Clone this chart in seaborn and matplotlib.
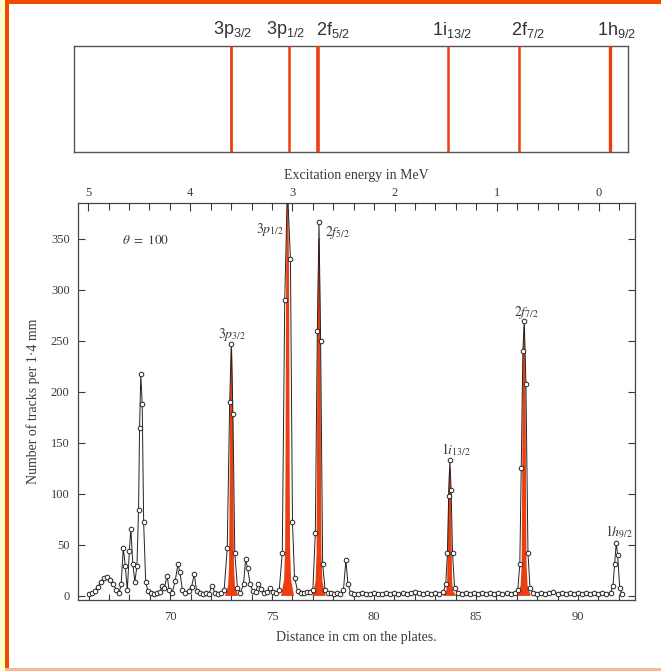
import numpy as np
import pandas as pd
import matplotlib
matplotlib.use("Agg")
import matplotlib.pyplot as plt
from matplotlib.patches import Rectangle
from matplotlib.ticker import MultipleLocator
import seaborn as sns

sns.set_theme(style="ticks")
plt.rcParams["font.family"] = ["Liberation Serif", "DejaVu Serif"]
plt.rcParams["mathtext.fontset"] = "stix"

# ---- measured spectrum: distance on the plates (cm) vs tracks per 1.4 mm ----
distance = [
    66.0, 66.15, 66.3, 66.45, 66.6, 66.75, 66.9, 67.05, 67.2, 67.35, 67.5, 67.6,
    67.7, 67.8, 67.9, 68.0, 68.07, 68.17, 68.27, 68.37, 68.45, 68.5, 68.56, 68.63,
    68.7, 68.8, 68.9, 69.05, 69.2, 69.35, 69.5, 69.6, 69.72, 69.85, 69.95, 70.1,
    70.25, 70.38, 70.48, 70.6, 70.75, 70.9, 71.05, 71.18, 71.3, 71.45, 71.6, 71.75,
    71.9, 72.05, 72.2, 72.35, 72.5, 72.65, 72.8, 72.92, 73.0, 73.08, 73.17, 73.3,
    73.45, 73.6, 73.7, 73.8, 73.92, 74.05, 74.2, 74.32, 74.45, 74.6, 74.75, 74.9,
    75.05, 75.2, 75.35, 75.5, 75.62, 75.75, 75.9, 76.0, 76.1, 76.25, 76.4, 76.55,
    76.7, 76.85, 77.0, 77.12, 77.22, 77.3, 77.38, 77.48, 77.6, 77.75, 77.9, 78.05,
    78.2, 78.35, 78.5, 78.62, 78.72, 78.85, 79.0, 79.2, 79.4, 79.6, 79.8, 80.0,
    80.2, 80.4, 80.6, 80.8, 81.0, 81.2, 81.4, 81.6, 81.8, 82.0, 82.2, 82.4,
    82.6, 82.8, 83.0, 83.2, 83.4, 83.52, 83.6, 83.66, 83.72, 83.78, 83.85, 83.95,
    84.1, 84.3, 84.5, 84.7, 84.9, 85.1, 85.3, 85.5, 85.7, 85.9, 86.1, 86.3,
    86.5, 86.7, 86.9, 87.05, 87.15, 87.22, 87.3, 87.37, 87.45, 87.55, 87.65, 87.8,
    88.0, 88.2, 88.4, 88.6, 88.8, 89.0, 89.2, 89.4, 89.6, 89.8, 90.0, 90.2,
    90.4, 90.6, 90.8, 91.0, 91.2, 91.4, 91.6, 91.72, 91.8, 91.88, 91.95, 92.05,
    92.15,
]
tracks = [
    2, 3, 5, 9, 14, 18, 19, 16, 12, 6, 3, 12,
    47, 29, 6, 44, 66, 31, 14, 29, 84, 165, 217, 188,
    72, 14, 5, 3, 2, 3, 4, 10, 8, 20, 6, 3,
    15, 31, 23, 6, 3, 5, 9, 21, 5, 3, 2, 3,
    2, 10, 3, 2, 3, 6, 47, 190, 247, 178, 42, 8,
    3, 12, 36, 27, 12, 5, 4, 12, 7, 3, 4, 8,
    4, 3, 6, 42, 290, 400, 330, 72, 18, 5, 3, 3,
    4, 4, 6, 62, 260, 366, 250, 31, 6, 3, 3, 2,
    3, 2, 6, 35, 12, 3, 2, 2, 3, 2, 2, 3,
    2, 2, 3, 2, 3, 2, 3, 2, 3, 4, 3, 2,
    3, 2, 3, 2, 4, 12, 42, 98, 133, 104, 42, 8,
    3, 2, 3, 2, 3, 2, 3, 2, 3, 2, 3, 2,
    3, 2, 3, 6, 31, 125, 240, 269, 208, 42, 8, 3,
    2, 3, 2, 3, 4, 2, 3, 2, 3, 2, 3, 2,
    3, 2, 3, 2, 3, 2, 3, 10, 31, 52, 40, 8,
    2,
]

# ---- single-particle states ----
peak_labels = [r"$3p_{3/2}$", r"$3p_{1/2}$", r"$2f_{5/2}$",
               r"$1i_{13/2}$", r"$2f_{7/2}$", r"$1h_{9/2}$"]
peak_label_x = [73.05, 74.9, 78.2, 84.0, 87.5, 92.0]
peak_label_y = [256, 359, 356, 143, 278, 62]

# shaded peaks (filled contribution)
fill_center = [73.01, 75.76, 77.3, 83.71, 87.36]
fill_height = [242, 400, 350, 125, 264]

# level diagram across the top
level_labels = [r"$\mathregular{3p_{3/2}}$", r"$\mathregular{3p_{1/2}}$",
                r"$\mathregular{2f_{5/2}}$", r"$\mathregular{1i_{13/2}}$",
                r"$\mathregular{2f_{7/2}}$", r"$\mathregular{1h_{9/2}}$"]
level_pos = [72.95, 75.8, 77.25, 83.65, 87.1, 91.58]
level_label_x = [72.1, 74.7, 77.15, 82.87, 86.72, 90.95]

energy_ticks = [0, 1, 2, 3, 4, 5]
distance_ticks = [70, 75, 80, 85, 90]
count_ticks = [0, 50, 100, 150, 200, 250, 300, 350]

RED = "#EC3F10"
INK = "#3a3a3a"

W, H = 661, 671
fig = plt.figure(figsize=(W / 100, H / 100), dpi=100)
fig.patch.set_facecolor("white")


def px_box(x0, y0, x1, y1):
    return [x0 / W, 1 - y1 / H, (x1 - x0) / W, (y1 - y0) / H]


# page frame
fig.add_artist(Rectangle((0, 0), 5 / W, 1, transform=fig.transFigure,
                         facecolor="#FFFFC8", edgecolor="none", zorder=0))
fig.add_artist(Rectangle((5 / W, 0), 4 / W, 1, transform=fig.transFigure,
                         facecolor="#F04A00", edgecolor="none", zorder=5))
fig.add_artist(Rectangle((5 / W, 1 - 4 / H), 1, 4 / H, transform=fig.transFigure,
                         facecolor="#F04A00", edgecolor="none", zorder=5))
fig.add_artist(Rectangle((5 / W, 0), 1, 3 / H, transform=fig.transFigure,
                         facecolor="#F8B898", edgecolor="none", zorder=5))

# ---------------- main spectrum ----------------
ax = fig.add_axes(px_box(78, 203, 635, 600))
xmin, xmax = 65.48, 92.8
ymin, ymax = -4, 385

# filled peak shapes: a narrow spike with a flared foot
frac_h = np.array([0.0, 0.04, 0.12, 0.35, 0.8, 1.0])
half_w = np.array([0.32, 0.17, 0.12, 0.10, 0.07, 0.03])
for c, h in zip(fill_center, fill_height):
    xs = np.concatenate([c - half_w, (c + half_w)[::-1]])
    ys = np.concatenate([frac_h * h, (frac_h * h)[::-1]])
    ax.fill(xs, ys, color=RED, lw=0, zorder=3)

df = pd.DataFrame({"distance": distance, "tracks": tracks})
sns.lineplot(data=df, x="distance", y="tracks", ax=ax, sort=False, estimator=None,
             color="#222222", lw=0.7, marker="o", markersize=3.3,
             markerfacecolor="white", markeredgecolor="#222222",
             markeredgewidth=0.7, zorder=4)

ax.set_xlim(xmin, xmax)
ax.set_ylim(ymin, ymax)
ax.set_xticks(distance_ticks)
ax.xaxis.set_minor_locator(MultipleLocator(1))
ax.set_yticks(count_ticks)
ax.tick_params(axis="both", which="both", direction="in", colors=INK,
               labelsize=9, labelcolor=INK)
ax.tick_params(axis="x", which="major", length=5, width=0.8, pad=8)
ax.tick_params(axis="x", which="minor", length=4, width=0.8)
ax.tick_params(axis="y", which="major", length=5, width=0.8, right=True, pad=6)
ax.tick_params(axis="x", top=False)
for s in ax.spines.values():
    s.set_color("#444444")
    s.set_linewidth(0.9)
ax.set_xlabel("Distance in cm on the plates.", fontsize=10, color=INK, labelpad=6)
ax.set_ylabel("Number of tracks per 1·4 mm", fontsize=10, color=INK, labelpad=8)

for lab, lx, ly in zip(peak_labels, peak_label_x, peak_label_y):
    ax.text(lx, ly, lab, fontsize=10, color=INK, ha="center", va="center", zorder=6)
ax.text(68.8, 348, r"$\theta\ =\ 100$", fontsize=9.5, color=INK, ha="center", va="center")

# excitation energy scale along the top
E0 = 91.03      # distance of zero excitation
CM_PER_MEV = 5.01
axe = ax.twiny()
axe.set_xlim((E0 - xmin) / CM_PER_MEV, (E0 - xmax) / CM_PER_MEV)
axe.set_xticks(energy_ticks)
axe.xaxis.set_minor_locator(MultipleLocator(0.2))
axe.tick_params(axis="x", which="both", direction="in", colors=INK,
                labelsize=9, labelcolor=INK, width=0.8)
axe.tick_params(axis="x", which="major", length=6, pad=3)
axe.tick_params(axis="x", which="minor", length=5)
for s in axe.spines.values():
    s.set_visible(False)
axe.set_xlabel("Excitation energy in MeV", fontsize=10, color=INK, labelpad=6)

# ---------------- level diagram ----------------
axt = fig.add_axes(px_box(74, 46, 628, 152))
axt.set_xlim(65.25, 92.48)
axt.set_ylim(0, 1)
axt.vlines(level_pos, 0, 1, colors=RED, lw=[2.0, 1.8, 2.6, 1.8, 1.8, 2.4], zorder=3)
axt.set_xticks([])
axt.set_yticks([])
for s in axt.spines.values():
    s.set_color("#555555")
    s.set_linewidth(1.0)
for lab, lx in zip(level_labels, level_label_x):
    axt.text(lx, 1.06, lab, fontsize=13, color="#333333", ha="left", va="bottom",
             family=["Liberation Sans", "DejaVu Sans"])

fig.savefig("out.png", dpi=100)
